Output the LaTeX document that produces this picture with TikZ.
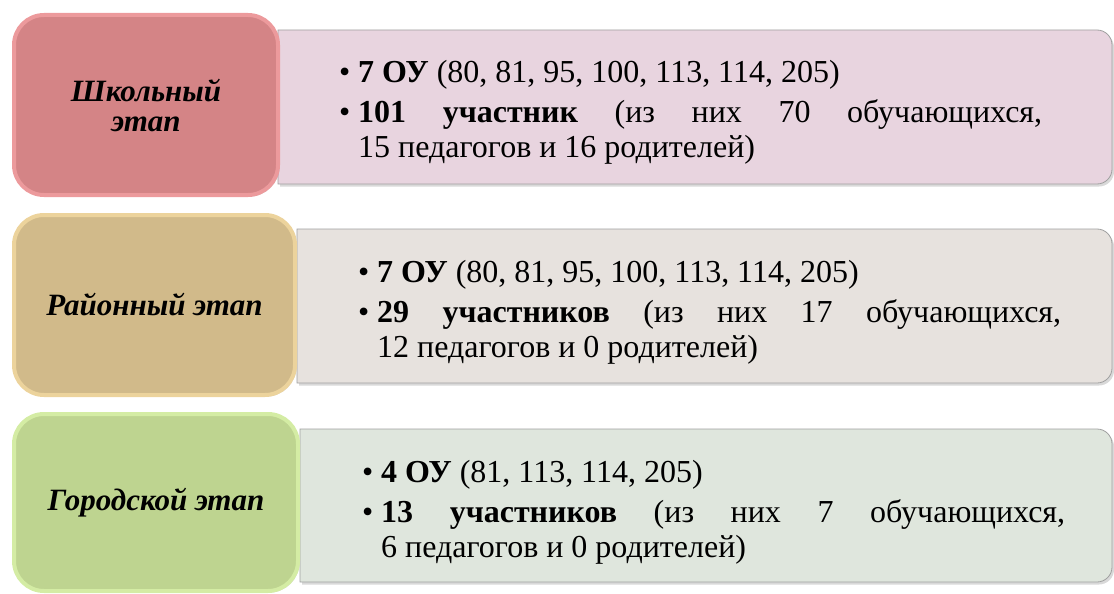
\documentclass[tikz,border=0pt]{standalone}
\usepackage{fontspec}
\setmainfont{Liberation Serif}
\usetikzlibrary{positioning, shadows, backgrounds}

\definecolor{schoolfill}{RGB}{212,132,134}
\definecolor{schoolglow}{RGB}{236,154,156}
\definecolor{districtfill}{RGB}{209,186,138}
\definecolor{districtglow}{RGB}{236,211,156}
\definecolor{cityfill}{RGB}{190,212,144}
\definecolor{cityglow}{RGB}{212,236,164}
\definecolor{schoolpanel}{RGB}{232,212,223}
\definecolor{districtpanel}{RGB}{231,226,222}
\definecolor{citypanel}{RGB}{223,230,221}
\definecolor{panelline}{RGB}{160,160,160}

\newcommand{\bulletitem}[1]{\hangindent=19pt\hangafter=1\noindent\makebox[19pt][l]{•}#1\par}

\tikzset{
	stage/.style={rounded corners=30pt, line width=4pt, align=center,
		font=\fontsize{31}{30}\selectfont\bfseries\itshape,
		drop shadow={opacity=0.3, shadow xshift=1.5pt, shadow yshift=-1.5pt}},
	panel/.style={draw=panelline, line width=0.8pt,
		drop shadow={opacity=0.3, shadow xshift=2pt, shadow yshift=-2.5pt}},
	info/.style={anchor=base west, inner sep=0pt, text width=703pt, align=justify,
		font=\fontsize{32}{35}\selectfont},
}

\begin{document}
\begin{tikzpicture}[x=1pt, y=-1pt]
	\useasboundingbox (0,0) rectangle (1114,594);
	
	% Corners of the three panels
	\coordinate (p1-nw) at (278,30);  \coordinate (p1-ne) at (1112,30);
	\coordinate (p1-sw) at (278,184); \coordinate (p1-se) at (1112,184);
	\coordinate (p2-nw) at (297,229); \coordinate (p2-ne) at (1112,229);
	\coordinate (p2-sw) at (297,383); \coordinate (p2-se) at (1112,383);
	\coordinate (p3-nw) at (300,429); \coordinate (p3-ne) at (1112,429);
	\coordinate (p3-sw) at (300,582); \coordinate (p3-se) at (1112,582);
	
	% Stage boxes
	\node[stage, fill=schoolfill, draw=schoolglow, minimum width=264pt, minimum height=180pt] (school) at (146,105) {Школьный\\этап};
	\node[stage, fill=districtfill, draw=districtglow, minimum width=281pt, minimum height=180pt] (district) at (154.5,305) {Районный этап};
	\node[stage, fill=cityfill, draw=cityglow, minimum width=284pt, minimum height=177pt] (city) at (156,502.5) {Городской этап};
	
	% Panels behind the stage boxes
	\begin{scope}[on background layer]
		\foreach \p/\c in {p1/schoolpanel, p2/districtpanel, p3/citypanel}
		\draw[panel, fill=\c] (\p-sw) -- (\p-nw) -- ([xshift=-15pt]\p-ne)
		arc[start angle=90, end angle=0, radius=15pt] -- ([yshift=15pt]\p-se)
		arc[start angle=0, end angle=-90, radius=15pt] -- cycle;
	\end{scope}
	
	% Figures of each stage
	\node[info] (school-info) at (339,82) {%
		\bulletitem{\textbf{7 ОУ} (80, 81, 95, 100, 113, 114, 205)}\vspace{5pt}%
		\bulletitem{\textbf{101 участник} (из них 70 обучающихся,\linebreak 15 педагогов и 16 родителей)}};
	\node[info] (district-info) at (358,282) {%
		\bulletitem{\textbf{7 ОУ} (80, 81, 95, 100, 113, 114, 205)}\vspace{5pt}%
		\bulletitem{\textbf{29 участников} (из них 17 обучающихся,\linebreak 12 педагогов и 0 родителей)}};
	\node[info] (city-info) at (362,482) {%
		\bulletitem{\textbf{4 ОУ} (81, 113, 114, 205)}\vspace{5pt}%
		\bulletitem{\textbf{13 участников} (из них 7 обучающихся,\linebreak 6 педагогов и 0 родителей)}};
\end{tikzpicture}
\end{document}
